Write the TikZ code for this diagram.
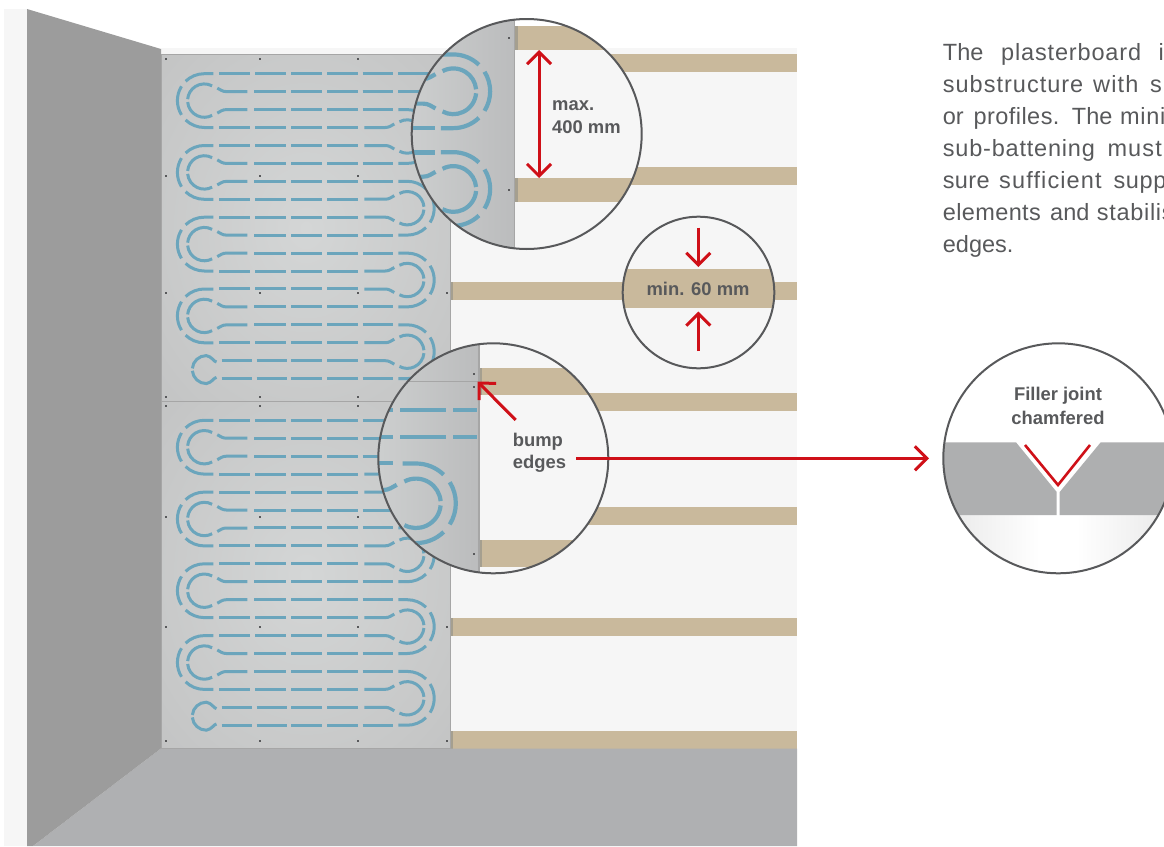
\documentclass[tikz,border=0pt]{standalone}
\usepackage{fontspec}
\setmainfont{Liberation Sans}
\usetikzlibrary{arrows.meta}
\definecolor{bgc}{HTML}{F6F6F6}
\definecolor{wallc}{HTML}{9C9C9C}
\definecolor{floorc}{HTML}{AFB0B2}
\definecolor{beamc}{HTML}{C9B99C}
\definecolor{stripc}{HTML}{A59F8F}
\definecolor{edgec}{HTML}{A6A6A6}
\definecolor{pipec}{HTML}{6BA5BC}
\definecolor{ringc}{HTML}{58595B}
\definecolor{textc}{HTML}{58595B}
\definecolor{redc}{HTML}{CF1018}
\definecolor{boardc}{HTML}{AEAFB0}
\definecolor{panelin}{HTML}{D4D6D6}
\definecolor{panelmid}{HTML}{C6C7C7}
\definecolor{panelout}{HTML}{BBBCBD}
\definecolor{magin}{HTML}{CDCFCF}
\pgfdeclareradialshading{panelglow}{\pgfpointorigin}{color(0bp)=(panelin); color(30bp)=(panelmid); color(50bp)=(panelout)}
\def\pipew{3pt}
\newcommand\ls[2]{{\addfontfeature{LetterSpace=#1}#2}}
\tikzset{
  pipe/.style={draw=pipec,line width=\pipew},
  ring/.style={draw=ringc,line width=2pt},
  redline/.style={draw=redc,line width=3pt},
  redarrow/.style={redline,-{Straight Barb[length=12pt,width=24pt,line width=3pt]}},
  redboth/.style={redline,{Straight Barb[length=12pt,width=24pt,line width=3pt]}-{Straight Barb[length=12pt,width=24pt,line width=3pt]}},
  boldlabel/.style={text=textc,inner sep=0pt,font=\fontsize{18.4}{22}\selectfont\bfseries},
  para/.style={text=textc,inner sep=0pt,anchor=base west,font=\fontsize{23.5}{32}\selectfont},
}
% one return bend, opening to the right of (0,0)
\newcommand\bendshape{%
  \draw[pipe] (9,-26.9) -- (0,-26.9) arc[start angle=270,end angle=226,radius=26.9];
  \draw[pipe] (212:26.9) arc[start angle=212,end angle=148,radius=26.9];
  \draw[pipe] (134:26.9) arc[start angle=134,end angle=90,radius=26.9] -- (9,26.9);
  \draw[pipe] (298:16.7) arc[start angle=298,end angle=185,radius=16.7];
  \draw[pipe] (175:16.7) arc[start angle=175,end angle=62,radius=16.7];
  \draw[pipe] (13,-12.5) .. controls (16,-11) and (18,-9) .. (22,-9) -- (43,-9);
  \draw[pipe] (13,12.5) .. controls (16,11) and (18,9) .. (22,9) -- (43,9);
}
\newcommand\bendL[2]{\begin{scope}[shift={(#1,#2)}]\bendshape\end{scope}}
\newcommand\bendR[2]{\begin{scope}[shift={(#1,#2)},xscale=-1]\bendshape\end{scope}}
\newcommand\panelpipes{%
  \foreach \y in {73.7,127.52,145.46,199.28,217.22,271.04,288.98,342.8}
    \foreach \a/\b in {219.3/250,255.3/286,291.3/322,327.3/358}
      \draw[pipe] (\a,\y) -- (\b,\y);
  \foreach \y in {91.64,109.58,163.4,181.34,235.16,253.1,306.92,324.86}
    \foreach \a/\b in {254/286,291.3/322,327.3/358,362.7/393.3}
      \draw[pipe] (\a,\y) -- (\b,\y);
  \foreach \y in {73.7,91.64} {
    \draw[pipe] (362.7,\y) -- (393.3,\y);
    \draw[pipe] (398,\y) -- (431,\y);
  }
  \foreach \a/\b in {221.7/251.7,256.7/286.7,291.3/322,327.3/358} {
    \draw[pipe] (\a,360.74) -- (\b,360.74);
    \draw[pipe] (\a,378.68) -- (\b,378.68);
  }
  \draw[pipe] (362.7,378.68) -- (393.3,378.68);
  \foreach \c in {100.6,172.4,244.1,315.9} \bendL{204.3}{\c};
  \foreach \c in {136.5,208.2,280,351.7} \bendR{407.3}{\c};
  \draw[pipe] (216.5,362) .. controls (214,362) and (212,356.5) .. (206.3,355.6)
     arc[start angle=270,end angle=185,radius=14];
  \draw[pipe] (216.5,377.4) .. controls (214,377.4) and (212,382.7) .. (206.3,383.6)
     arc[start angle=90,end angle=175,radius=14];
}
\begin{document}
\begin{tikzpicture}[x=1pt,y=1pt,yscale=-1]
\useasboundingbox (0,0) rectangle (1164,846);
\clip (0,0) rectangle (1164,846);
% room
\fill[bgc] (4,9) rectangle (27,846);
\fill[bgc] (161,48) rectangle (797,748);
\foreach \y in {54,167,282,393,507,618,731} {
  \fill[beamc] (450,\y) rectangle (797,\y+18);
  \fill[stripc] (450,\y) rectangle (452.5,\y+18);
}
\fill[floorc] (161,748.5) -- (797,748.5) -- (797,846) -- (33,846) -- cycle;
\fill[wallc] (27,9) -- (161,49) -- (161,748.5) -- (33,846) -- (27,846) -- cycle;
% plasterboards
\shade[shading=panelglow] (162,55) rectangle (450,401);
\shade[shading=panelglow] (162,402) rectangle (450,748);
\draw[edgec,line width=1pt] (161.5,54.5) -- (450.5,54.5) -- (450.5,748.5) -- (161.5,748.5) -- cycle;
\draw[edgec,line width=1pt] (162,401.5) -- (450,401.5);
\panelpipes
\begin{scope}[shift={(0,346.6)}]\panelpipes\end{scope}
\foreach \x in {166,260,358,447}
  \foreach \y in {59,176,293,397,406,517,627,741}
    \fill[ringc] (\x-.8,\y-.8) rectangle (\x+.8,\y+.8);
% magnifier: max. 400 mm
\begin{scope}
  \clip (526.7,134) circle (115);
  \fill[bgc] (400,10) rectangle (650,260);
  \fill[white] (400,10) rectangle (650,26);
  \fill[beamc] (515,26) rectangle (650,50);
  \fill[beamc] (515,178) rectangle (650,202);
  \fill[stripc] (515,26) rectangle (517.7,50);
  \fill[stripc] (515,178) rectangle (517.7,202);
  \shade[left color=magin,right color=panelout] (405,10) rectangle (514.7,260);
  \fill[edgec] (514,10) rectangle (515.3,260);
  \def\pipew{4.2pt}
  \begin{scope}[shift={(453.3,91.3)},scale=1.37,xscale=-1]\bendshape\end{scope}
  \begin{scope}[shift={(453.3,189)},scale=1.37,xscale=-1]\bendshape\end{scope}
  \draw[pipe] (411,128.3) -- (435,128.3);
  \draw[pipe] (411,152.5) -- (435,152.5);
  \fill[ringc] (508,37) rectangle (510,39);
  \fill[ringc] (508,189) rectangle (510,191);
\end{scope}
\draw[ring] (526.7,134) circle (115);
\coordinate (m1) at (539,50);
\coordinate (m2) at (539,178);
\draw[redboth] (m1) -- (m2);
\node[boldlabel,anchor=base west] (maxa) at (552,110) {max.};
\node[boldlabel,anchor=base west] (maxb) at (552,133.3) {400 mm};
% magnifier: min. 60 mm
\begin{scope}
  \clip (698.5,292.5) circle (75.8);
  \fill[bgc] (620,215) rectangle (777,370);
  \fill[beamc] (620,269) rectangle (777,307.7);
\end{scope}
\draw[ring] (698.5,292.5) circle (75.8);
\node[boldlabel,anchor=base] (mina) at (698,295.7) {min. 60 mm};
\coordinate (t1) at (698.3,227.7);
\coordinate (t2) at (698.3,267);
\coordinate (b1) at (698.3,351);
\coordinate (b2) at (698.3,311.5);
\draw[redarrow] (t1) -- (t2);
\draw[redarrow] (b1) -- (b2);
% magnifier: bump edges
\begin{scope}
  \clip (493.3,458.3) circle (115);
  \fill[bgc] (370,340) rectangle (612,580);
  \fill[beamc] (479,368.3) rectangle (612,395);
  \fill[beamc] (479,540) rectangle (612,567);
  \fill[stripc] (479,368.3) rectangle (482,395);
  \fill[stripc] (479,540) rectangle (482,567);
  \shade[left color=magin,right color=panelout] (375,340) rectangle (479,580);
  \fill[edgec] (478.3,340) rectangle (479.5,580);
  \draw[edgec,line width=1pt] (375,381) -- (479,381);
  \def\pipew{4.2pt}
  \begin{scope}[shift={(416,503.3)},scale=1.48,xscale=-1]\bendshape\end{scope}
  \foreach \y in {410,436.7} {
    \draw[pipe] (375,\y) -- (393.3,\y);
    \draw[pipe] (400.3,\y) -- (446,\y);
    \draw[pipe] (453.3,\y) -- (476.7,\y);
  }
  \draw[pipe] (375,463.3) -- (393.3,463.3);
  \foreach \y in {374,387.3,554}
    \fill[ringc] (473,\y-1) rectangle (475,\y+1);
\end{scope}
\draw[ring] (493.3,458.3) circle (115);
\coordinate (be1) at (515.7,420);
\coordinate (be2) at (477.7,381.7);
\draw[redarrow] (be1) -- (be2);
\node[boldlabel,anchor=base west] (bumpa) at (512.7,446.7) {bump};
\node[boldlabel,anchor=base west] (bumpb) at (512.7,468.3) {edges};
% magnifier: filler joint
\begin{scope}
  \clip (1058.3,458.3) circle (115);
  \fill[white] (940,340) rectangle (1176,580);
  \shade[left color=black!9,right color=white] (943,515) rectangle (1040,575);
  \shade[left color=white,right color=black!9] (1076,515) rectangle (1174,575);
  \fill[boardc] (940,442.3) -- (1016,442.3) -- (1056.7,492) -- (1056.7,515) -- (940,515) -- cycle;
  \fill[boardc] (1176,442.3) -- (1100.7,442.3) -- (1059.7,492) -- (1059.7,515) -- (1176,515) -- cycle;
\end{scope}
\draw[ring] (1058.3,458.3) circle (115);
\coordinate (va) at (1025,445);
\coordinate (vb) at (1058,485);
\coordinate (vc) at (1090,445);
\draw[draw=redc,line width=2.6pt] (va) -- (vb) -- (vc);
\node[boldlabel,anchor=base] (filla) at (1058,400.7) {Filler joint};
\node[boldlabel,anchor=base] (fillb) at (1058,424) {chamfered};
% link between magnifiers
\coordinate (l1) at (576,458.3);
\coordinate (l2) at (929,458.3);
\draw[redarrow] (l1) -- (l2);
% paragraph, running off the page
\node[para] (w11) at (942.7,60) {The};
\node[para] (w12) at (1001,60) {\ls{3.6}{plasterboard}};
\node[para] (w13) at (1158.3,60) {i};
\node[para] (w21) at (942.7,92) {\ls{4.3}{substructure}};
\node[para] (w22) at (1093,92) {\ls{5}{with}};
\node[para] (w23) at (1150,92) {\ls{4}{su}};
\node[para] (w31) at (942.7,124) {or};
\node[para] (w32) at (973.3,124) {\ls{2}{profiles.}};
\node[para] (w33) at (1071.7,124) {The};
\node[para] (w34) at (1120,124) {\ls{3}{mini}};
\node[para] (w41) at (942.7,156) {\ls{3.4}{sub-battening}};
\node[para] (w42) at (1107.3,156) {\ls{5}{must}};
\node[para] (w51) at (942.7,188) {\ls{1.5}{sure}};
\node[para] (w52) at (999,188) {\ls{4.8}{sufficient}};
\node[para] (w53) at (1113.3,188) {\ls{3}{supp}};
\node[para] (w61) at (942.7,220) {\ls{1.6}{elements}};
\node[para] (w62) at (1050,220) {and};
\node[para] (w63) at (1096.7,220) {\ls{3}{stabilis}};
\node[para] (w71) at (942.7,252) {edges.};
\end{tikzpicture}
\end{document}
